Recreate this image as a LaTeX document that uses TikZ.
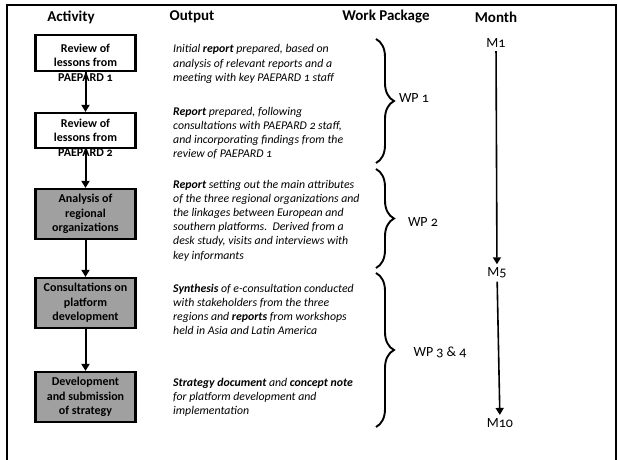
\documentclass[tikz,border=0pt]{standalone}
\usepackage{fontspec}
\setmainfont{Carlito}[Numbers=OldStyle]
\usepackage{xcolor}
\usepackage{tikz}
\usetikzlibrary{positioning,arrows.meta,decorations.pathreplacing}
\definecolor{boxgray}{RGB}{160,160,160}

\begin{document}
\begin{tikzpicture}[x=1pt, y=-1pt, node distance={40pt},
  head/.style = {font=\fontsize{15}{18}\selectfont\bfseries},
  act/.style = {draw, line width=2.2pt, minimum width=100pt, inner sep=0pt},
  acttext/.style = {align=center, font=\fontsize{12}{14.5}\selectfont\bfseries},
  gbox/.style = {act, fill=boxgray, minimum height=50pt, acttext},
  outtext/.style = {anchor=west, align=left, inner sep=0pt, font=\fontsize{11.8}{14.2}\selectfont\itshape},
  wp/.style = {font=\fontsize{14}{16}\selectfont},
  wpbrace/.style = {decorate, decoration={brace, amplitude=18pt}, line width=1.9pt},
  flow/.style = {-{Triangle[width=8pt,length=7pt]}, line width=2pt},
  timeline/.style = {-{Triangle[width=8pt,length=7pt]}, line width=1.6pt}]
\useasboundingbox (0,0) rectangle (618,460);
\draw[line width=2.5pt] (7,460) -- (7,5) -- (616,5) -- (616,460);
\node[head] (h1) at (71,17) {Activity};
\node[head] (h2) at (192,17) {Output};
\node[head] (h3) at (386,17) {Work Package};
\node[head] (h4) at (496,17) {Month};
\node[act, minimum height=36pt] (a1) at (85.5,53) {};
\node[acttext] (t1) at (85.5,62.5) {Review of\\lessons from\\PAEPARD 1};
\node[act, minimum height=35pt] (a2) [below=39.8pt of a1] {};
\node[acttext] (t2) at (85.5,137.5) {Review of\\lessons from\\PAEPARD 2};
\node[gbox] (a3) [below=38.8pt of a2] {Analysis of\\regional\\organizations};
\node[gbox] (a4) [below=36.8pt of a3] {Consultations on\\platform\\development};
\node[gbox] (a5) [below=41.8pt of a4] {Development\\and submission\\of strategy};
\draw[flow] (a1) -- (a2);
\draw[flow] (a2) -- (a3);
\draw[flow] (a3) -- (a4);
\draw[flow] (a4) -- (a5);
\node[outtext] (o1) at (173,64) {Initial \textbf{report} prepared, based on\\analysis of relevant reports and a\\meeting with key PAEPARD 1 staff};
\node[outtext] (o2) at (173,133) {\textbf{Report} prepared, following\\consultations with PAEPARD 2 staff,\\and incorporating findings from the\\review of PAEPARD 1};
\node[outtext] (o3) at (173,220.5) {\textbf{Report} setting out the main attributes\\of the three regional organizations and\\the linkages between European and\\southern platforms.\ \ Derived from a\\desk study, visits and interviews with\\key informants};
\node[outtext] (o4) at (173,309.5) {\textbf{Synthesis} of e-consultation conducted\\with stakeholders from the three\\regions and \textbf{reports} from workshops\\held in Asia and Latin America};
\node[outtext] (o5) at (173,397.5) {\textbf{Strategy document} and \textbf{concept note}\\for platform development and\\implementation};
\draw[wpbrace] (376,39) -- (376,163);
\draw[wpbrace] (376,169) -- (376,268);
\draw[wpbrace] (376,273) -- (376,427);
\node[wp] (w1) at (414,98) {WP 1};
\node[wp] (w2) at (423,222) {WP 2};
\node[wp] (w3) at (440,352) {WP 3 \& 4};
\node[wp] (m1) at (496,43) {M1};
\node[wp] (m5) at (497,273) {M5};
\node[wp] (m10) at (500,423) {M10};
\draw[timeline] (m1) -- (m5);
\draw[timeline] (m5) -- (m10);
\end{tikzpicture}
\end{document}
